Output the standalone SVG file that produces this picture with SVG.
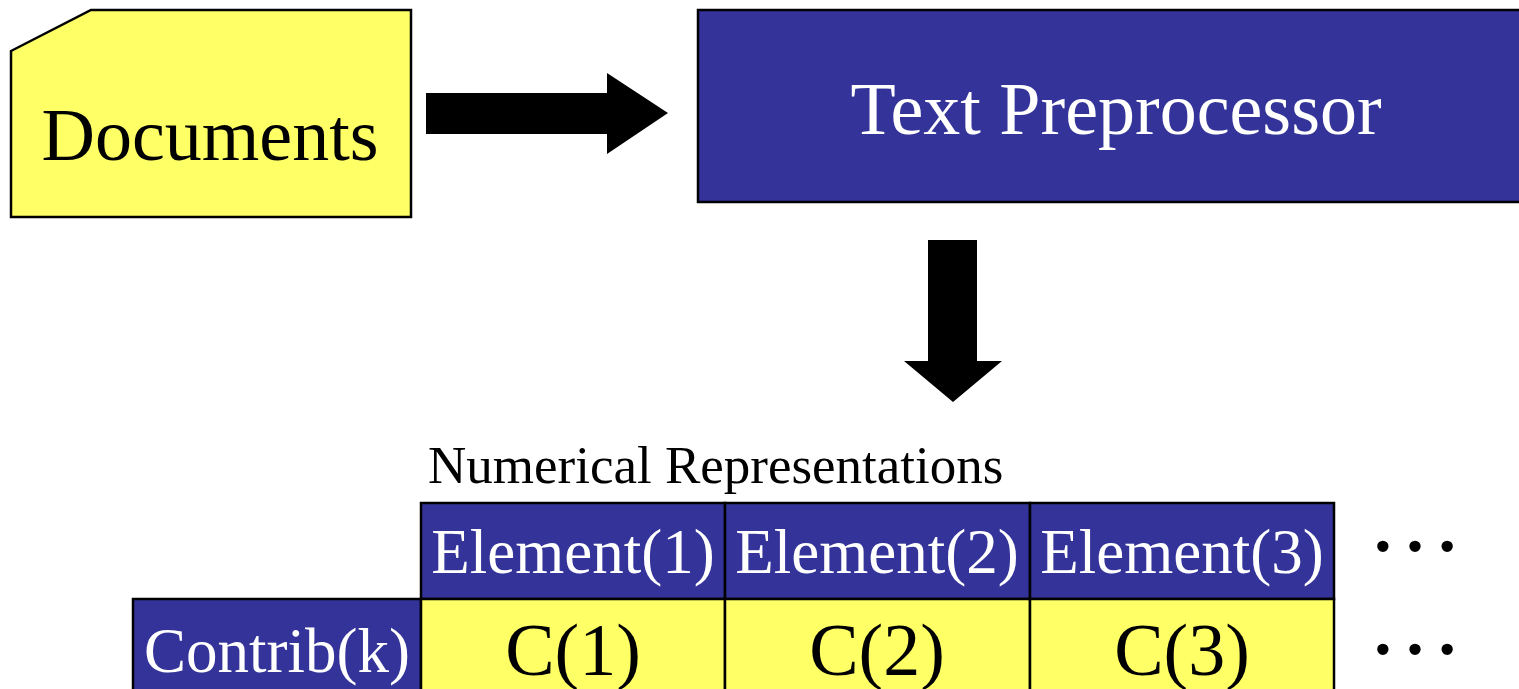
<svg xmlns="http://www.w3.org/2000/svg" width="1519" height="689" viewBox="0 0 1519 689">
<style>
.t{font-family:"Liberation Serif","Times New Roman",serif}
.w{fill:#ffffff}
.k{fill:#000000}
.blue{fill:#333399;stroke:#000;stroke-width:2.5}
.yel{fill:#ffff66;stroke:#000;stroke-width:2.5}
</style>
<rect width="1519" height="689" fill="#ffffff"/>
<g id="documents">
<polygon class="yel" points="11,51 91,10 411,10 411,217 11,217"/>
<text class="t k" x="210" y="160" font-size="74" text-anchor="middle">Documents</text>
</g>
<g id="preprocessor">
<rect class="blue" x="698" y="10" width="840" height="192"/>
<text class="t w" x="1116" y="134" font-size="74" text-anchor="middle">Text Preprocessor</text>
</g>
<g id="connectors">
<polygon fill="#000" points="426,93 607,93 607,73 668,113 607,154 607,134 426,134"/>
<polygon fill="#000" points="928,240 977,240 977,361 1002,361 953,402 904,361 928,361"/>
</g>
<g id="label">
<text class="t k" x="428" y="483" font-size="53">Numerical Representations</text>
</g>
<g id="table">
<rect class="blue" x="421" y="503" width="304" height="96"/>
<rect class="blue" x="725" y="503" width="305" height="96"/>
<rect class="blue" x="1030" y="503" width="304" height="96"/>
<rect class="blue" x="133" y="599" width="288" height="100"/>
<rect class="yel" x="421" y="599" width="304" height="100"/>
<rect class="yel" x="725" y="599" width="305" height="100"/>
<rect class="yel" x="1030" y="599" width="304" height="100"/>
<text class="t w" x="573" y="573" font-size="63" text-anchor="middle">Element(1)</text>
<text class="t w" x="877" y="573" font-size="63" text-anchor="middle">Element(2)</text>
<text class="t w" x="1182" y="573" font-size="63" text-anchor="middle">Element(3)</text>
<text class="t w" x="277" y="672" font-size="63" text-anchor="middle">Contrib(k)</text>
<text class="t k" x="573" y="675" font-size="74" text-anchor="middle">C(1)</text>
<text class="t k" x="877" y="675" font-size="74" text-anchor="middle">C(2)</text>
<text class="t k" x="1182" y="675" font-size="74" text-anchor="middle">C(3)</text>
</g>
<g id="ellipses">
<text class="t k" x="1367" y="551" font-size="96">…</text>
<text class="t k" x="1367" y="654" font-size="96">…</text>
</g>
</svg>
